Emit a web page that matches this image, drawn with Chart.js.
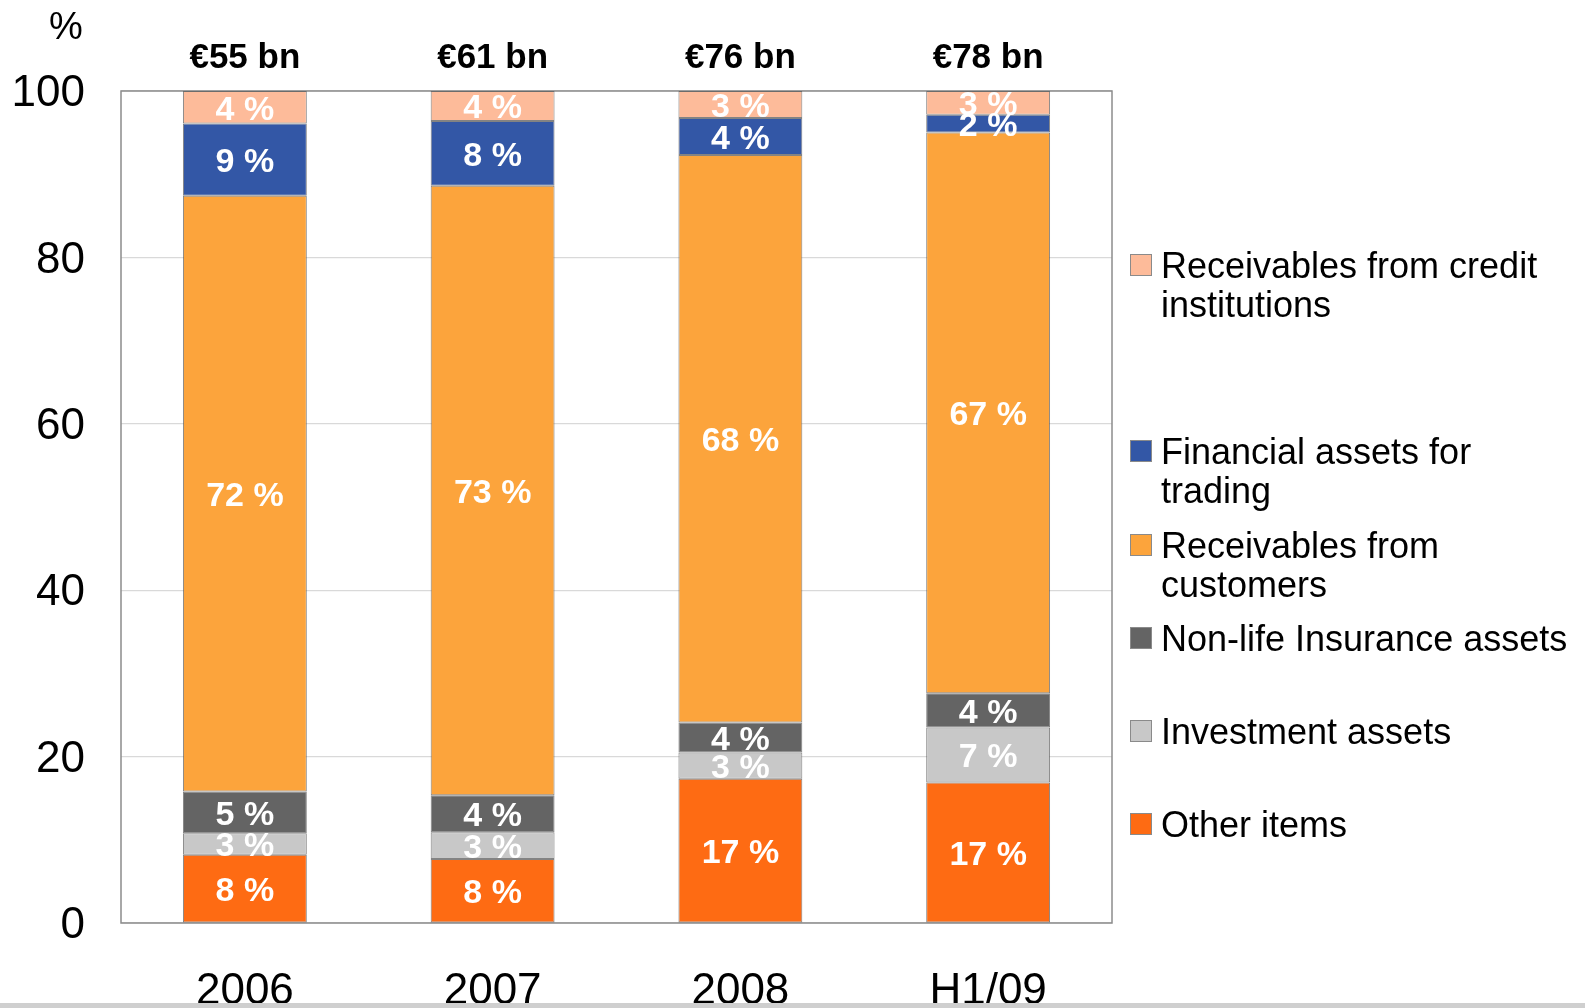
<!DOCTYPE html>
<html>
<head>
<meta charset="utf-8">
<script src="https://cdn.jsdelivr.net/npm/chart.js@4.4.1/dist/chart.umd.min.js"></script>
<style>
  html, body { margin: 0; padding: 0; background: #fff; }
  #wrap { position: relative; width: 1585px; height: 1008px; overflow: hidden; font-family: "Liberation Sans", Arial, sans-serif; }
  #c { position: absolute; left: 0; top: 0; }
  .leg { position: absolute; left: 1130px; display: flex; align-items: flex-start; }
  .leg .sw { width: 22px; height: 22px; box-sizing: border-box; border: 1px solid #8a8a8a; margin-top: 8px; flex: none; }
  .leg .tx { margin-left: 9px; width: 418px; font-size: 36px; line-height: 39px; color: #000; }
  #bottomband { position: absolute; left: 0; right: 0; bottom: 0; height: 5px; background: #cfcfcf; }
</style>
</head>
<body>
<div id="wrap">
  <canvas id="c" width="1585" height="1008"></canvas>
  <div id="legend"></div>
  <div id="bottomband"></div>
</div>
<script>
const categories = ['2006', '2007', '2008', 'H1/09'];
const totals = ['€55 bn', '€61 bn', '€76 bn', '€78 bn'];
const yTicks = [0, 20, 40, 60, 80, 100];

const otherItems           = [8.2, 7.7, 17.35, 16.9];
const investmentAssets     = [2.6, 3.2, 3.15, 6.6];
const nonLifeInsurance     = [5.0, 4.45, 3.6, 4.1];
const receivablesCustomers = [71.6, 73.25, 68.2, 67.4];
const financialAssets      = [8.7, 7.8, 4.45, 2.15];
const receivablesCredit    = [3.9, 3.6, 3.25, 2.85];

const seriesNames = ['Other items', 'Investment assets', 'Non-life Insurance assets',
  'Receivables from customers', 'Financial assets for trading', 'Receivables from credit institutions'];
const seriesData = [otherItems, investmentAssets, nonLifeInsurance, receivablesCustomers, financialAssets, receivablesCredit];
const seriesColors = ['#FE6B13', '#C8C8C8', '#646464', '#FCA43C', '#3357A6', '#FDBB9A'];

// legend first-line centre positions (top to bottom)
const legendCenters = [265, 451, 545, 638, 731, 824];

const datasets = seriesNames.map((name, i) => ({
  label: name,
  data: seriesData[i],
  backgroundColor: seriesColors[i],
  borderColor: 'rgba(90,90,90,0.75)',
  borderWidth: 1,
  borderSkipped: false,
  xAxisID: 'x',
  yAxisID: 'y'
}));

const frameAndLabels = {
  id: 'frameAndLabels',
  beforeDatasetsDraw(chart) {
    const { ctx, chartArea: a } = chart;
    ctx.save();
    ctx.strokeStyle = '#8c8c8c';
    ctx.lineWidth = 1.5;
    ctx.strokeRect(a.left, a.top, a.right - a.left, a.bottom - a.top);
    ctx.restore();
  },
  afterDatasetsDraw(chart) {
    const { ctx } = chart;
    ctx.save();
    ctx.font = 'bold 34px "Liberation Sans", Arial, sans-serif';
    ctx.fillStyle = '#fff';
    ctx.textAlign = 'center';
    ctx.textBaseline = 'middle';
    chart.data.datasets.forEach((ds, di) => {
      const meta = chart.getDatasetMeta(di);
      meta.data.forEach((el, i) => {
        const v = ds.data[i];
        const cy = (el.y + el.base) / 2;
        ctx.fillText(Math.round(v) + ' %', el.x, cy + 3);
      });
    });
    ctx.fillStyle = '#000';
    ctx.font = '38px "Liberation Sans", Arial, sans-serif';
    ctx.fillText('%', 66, 29);
    ctx.restore();
  }
};

const legendEl = document.getElementById('legend');
const order = [5, 4, 3, 2, 1, 0];
order.forEach((si, k) => {
  const d = document.createElement('div');
  d.className = 'leg';
  d.style.top = (legendCenters[k] - 19.5) + 'px';
  const sw = document.createElement('div');
  sw.className = 'sw';
  sw.style.background = seriesColors[si];
  const tx = document.createElement('div');
  tx.className = 'tx';
  tx.textContent = seriesNames[si];
  d.appendChild(sw); d.appendChild(tx);
  legendEl.appendChild(d);
});

new Chart(document.getElementById('c'), {
  type: 'bar',
  data: { labels: categories, datasets },
  options: {
    responsive: false,
    animation: false,
    layout: { padding: { left: 0, right: 473, top: 0, bottom: 0 } },
    plugins: { legend: { display: false }, tooltip: { enabled: false } },
    datasets: { bar: { categoryPercentage: 1.0, barPercentage: 0.5 } },
    scales: {
      x: {
        stacked: true,
        position: 'bottom',
        grid: { display: false, drawTicks: false },
        border: { display: false },
        ticks: { color: '#000', font: { family: '"Liberation Sans", Arial, sans-serif', size: 44 }, padding: 42, maxRotation: 0 },
        afterFit(s) { s.height = 85; }
      },
      xTop: {
        type: 'category',
        labels: totals,
        position: 'top',
        offset: true,
        grid: { display: false, drawTicks: false },
        border: { display: false },
        ticks: { color: '#000', font: { family: '"Liberation Sans", Arial, sans-serif', size: 35, weight: 'bold' }, padding: 12, maxRotation: 0 },
        afterFit(s) { s.height = 91; }
      },
      y: {
        stacked: true,
        min: 0, max: 100,
        grid: { color: '#d9d9d9', lineWidth: 1.2, drawTicks: false },
        border: { display: false },
        afterBuildTicks(s) { s.ticks = yTicks.map(v => ({ value: v })); },
        ticks: { color: '#000', font: { family: '"Liberation Sans", Arial, sans-serif', size: 44, lineHeight: 1.0 }, padding: 36, labelOffset: 3 },
        afterFit(s) { s.width = 121; }
      }
    }
  },
  plugins: [frameAndLabels]
});
</script>
</body>
</html>
